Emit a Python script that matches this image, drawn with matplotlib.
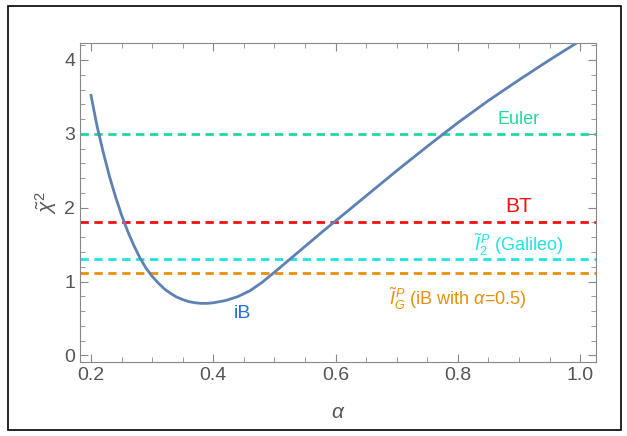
import numpy as np
import matplotlib
matplotlib.use("Agg")
import matplotlib.pyplot as plt
from matplotlib.ticker import MultipleLocator
from matplotlib.patches import Rectangle

# chi^2 vs alpha for iB
alpha = [0.20, 0.21, 0.22, 0.23, 0.24, 0.25, 0.26, 0.27, 0.28, 0.29, 0.30,
         0.31, 0.32, 0.33, 0.34, 0.35, 0.36, 0.37, 0.38, 0.39, 0.40, 0.42,
         0.44, 0.46, 0.48, 0.50, 0.52, 0.54, 0.56, 0.58, 0.60, 0.62, 0.65,
         0.70, 0.75, 0.80, 0.85, 0.90, 0.95, 1.00]
chi2 = [3.52, 3.10, 2.75, 2.43, 2.15, 1.90, 1.68, 1.49, 1.32, 1.18, 1.07,
        0.98, 0.90, 0.84, 0.79, 0.755, 0.728, 0.712, 0.704, 0.704, 0.712, 0.742,
        0.795, 0.875, 0.99, 1.125, 1.265, 1.405, 1.545, 1.685, 1.82, 1.955, 2.16,
        2.50, 2.83, 3.15, 3.45, 3.73, 4.00, 4.26]

# reference levels
ref_names = ["Euler", "BT", "Galileo", "iB05"]
ref_values = [3.0, 1.8, 1.3, 1.12]
ref_colors = ["#1fd99a", "#f01010", "#1fe3e3", "#e8900c"]

plt.rcParams["font.family"] = ["Liberation Sans", "DejaVu Sans"]
plt.rcParams["mathtext.fontset"] = "custom"
plt.rcParams["mathtext.it"] = "Liberation Sans:italic"
plt.rcParams["mathtext.rm"] = "Liberation Sans"

fig = plt.figure(figsize=(6.27, 4.36), dpi=100)
ax = fig.add_axes([80 / 627, 1 - 362 / 436, 516 / 627, 319 / 436])

for v, c in zip(ref_values, ref_colors):
    ax.axhline(v, color=c, lw=2, dashes=(3, 2))

ax.plot(alpha, chi2, color="#5e81b5", lw=2)

ax.text(0.9, 3.2, "Euler", color=ref_colors[0], fontsize=13, ha="center", va="center")
ax.text(0.9, 2.02, "BT", color=ref_colors[1], fontsize=15, ha="center", va="center")
ax.text(0.9, 1.5, r"$\tilde{I}_2^{\,P}$ (Galileo)", color=ref_colors[2], fontsize=13,
        ha="center", va="center")
ax.text(0.80, 0.77, r"$\tilde{I}_G^{\,P}$ (iB with $\alpha$=0.5)", color=ref_colors[3],
        fontsize=13, ha="center", va="center")
ax.text(0.447, 0.57, "iB", color="#1f6fe8", fontsize=14, ha="center", va="center")

ax.set_xlim(0.182, 1.026)
ax.set_ylim(-0.09, 4.23)
ax.xaxis.set_major_locator(MultipleLocator(0.2))
ax.xaxis.set_minor_locator(MultipleLocator(0.05))
ax.yaxis.set_major_locator(MultipleLocator(1))
ax.yaxis.set_minor_locator(MultipleLocator(0.2))
ax.set_xticks([0.2, 0.4, 0.6, 0.8, 1.0], ["0.2", "0.4", "0.6", "0.8", "1.0"])
ax.tick_params(which="both", direction="in", top=True, right=True, color="#888888",
               labelcolor="#555555", labelsize=14)
ax.tick_params(which="major", length=6)
ax.tick_params(which="minor", length=3.5)
for s in ax.spines.values():
    s.set_color("#888888")

ax.set_xlabel(r"$\alpha$", fontsize=15, color="#555555", labelpad=14)
ax.set_ylabel(r"$\tilde{\chi}^2$", fontsize=15, color="#555555", labelpad=4)

fig.patches.append(Rectangle((8 / 627, 6 / 436), 613 / 627, 424 / 436, transform=fig.transFigure,
                             fill=False, edgecolor="black", lw=1.2))

fig.savefig("out.png", dpi=100)
